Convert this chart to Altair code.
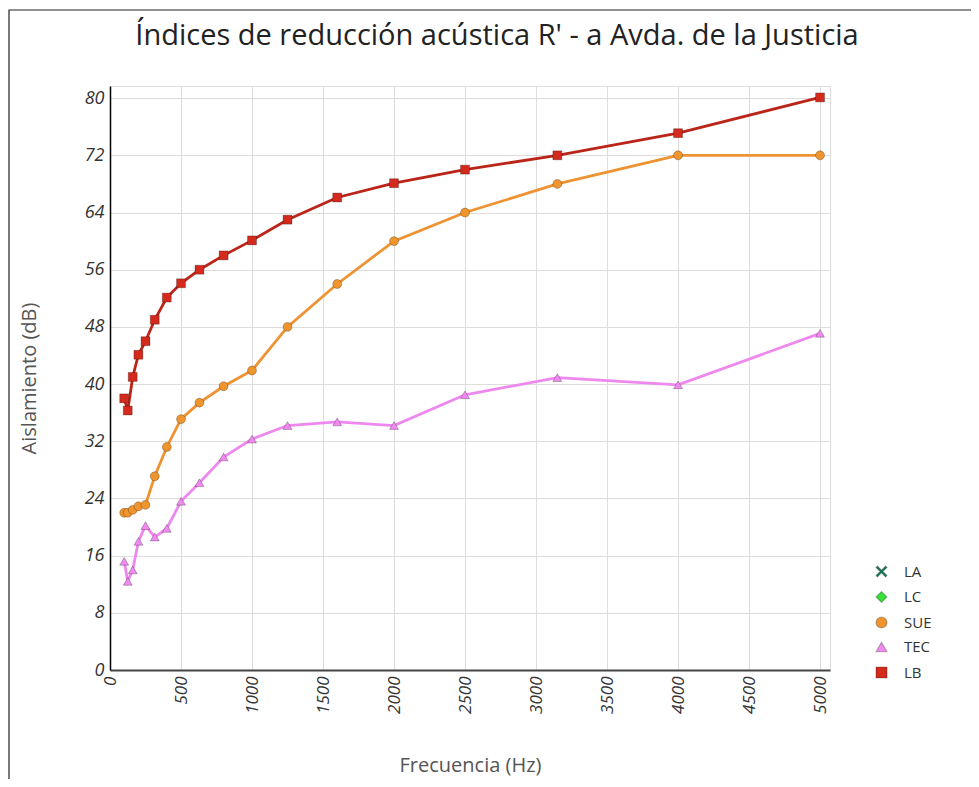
import altair as alt
import pandas as pd

freqs = [100, 125, 160, 200, 250, 315, 400, 500, 630, 800, 1000, 1250, 1600, 2000, 2500, 3150, 4000, 5000]
lb = [38.0, 36.3, 41.0, 44.1, 46.0, 49.0, 52.1, 54.1, 56.0, 58.0, 60.1, 63.0, 66.1, 68.1, 70.0, 72.0, 75.1, 80.1]
sue = [22.0, 22.0, 22.4, 22.9, 23.1, 27.1, 31.2, 35.1, 37.4, 39.7, 41.9, 48.0, 54.0, 60.0, 64.0, 68.0, 72.0, 72.0]
tec = [15.2, 12.4, 14.0, 18.0, 20.2, 18.6, 19.8, 23.6, 26.2, 29.8, 32.3, 34.2, 34.7, 34.2, 38.5, 40.9, 39.9, 47.1]

X_SHAPE = ("M-0.75,-1L0,-0.25L0.75,-1L1,-0.75L0.25,0L1,0.75L0.75,1L0,0.25"
           "L-0.75,1L-1,0.75L-0.25,0L-1,-0.75Z")

series_names = ["LA", "LC", "SUE", "TEC", "LB"]
series_colors = ["#17805a", "#39e039", "#f0952e", "#f08af0", "#d42a1e"]
series_shapes = [X_SHAPE, "diamond", "circle", "triangle-up", "square"]
drawn_series = ["SUE", "TEC", "LB"]
line_colors = ["#ee9232", "#ee88ee", "#bb2418"]

x_ticks = [0, 500, 1000, 1500, 2000, 2500, 3000, 3500, 4000, 4500, 5000]
y_ticks = [0, 8, 16, 24, 32, 40, 48, 56, 64, 72, 80]

rows = []
for name, vals in [("TEC", tec), ("SUE", sue), ("LB", lb)]:
    for f, v in zip(freqs, vals):
        rows.append({"serie": name, "linea": name, "freq": f, "val": v})
df = pd.DataFrame(rows)

FONT = "Open Sans"
W, H = 720, 584

x_enc = alt.X("freq:Q", scale=alt.Scale(domain=[0, 5070], nice=False, zero=True),
              axis=alt.Axis(values=x_ticks, format="d", title="Frecuencia (Hz)", labelAngle=270,
                            labelFontStyle="italic", labelFontSize=17, labelColor="#333",
                            labelFont=FONT, labelPadding=6, ticks=False,
                            titleFont=FONT, titleFontSize=20, titleFontWeight="normal",
                            titleColor="#555", titlePadding=42,
                            domainColor="#444", domainWidth=2,
                            gridColor="#dddddd", labelFlush=False))
y_enc = alt.Y("val:Q", scale=alt.Scale(domain=[0, 81.7], nice=False),
              axis=alt.Axis(values=y_ticks, title="Aislamiento (dB)",
                            labelFontStyle="italic", labelFontSize=18, labelColor="#333",
                            labelFont=FONT, labelPadding=6, ticks=False,
                            titleFont=FONT, titleFontSize=20, titleFontWeight="normal",
                            titleColor="#555", titlePadding=45,
                            domainColor="#000", domainWidth=1.5,
                            gridColor="#dddddd", labelFlush=False))

lines = alt.Chart(df).mark_line(strokeWidth=2.8).encode(
    x=x_enc, y=y_enc,
    stroke=alt.Stroke("linea:N", scale=alt.Scale(domain=drawn_series, range=line_colors), legend=None),
    detail="linea:N",
)

points = alt.Chart(df).mark_point(filled=True, size=80, strokeWidth=1, opacity=1,
                                  stroke="#00000040").encode(
    x="freq:Q", y="val:Q",
    color=alt.Color("serie:N", scale=alt.Scale(domain=series_names, range=series_colors),
                    legend=alt.Legend(title=None, orient="none", legendX=764, legendY=478,
                                      labelFont=FONT, labelFontSize=15, labelColor="#333",
                                      symbolSize=120, symbolStrokeWidth=1.2,
                                      symbolStrokeColor="#00000040",
                                      labelOffset=15, rowPadding=8.5, padding=0)),
    shape=alt.Shape("serie:N", scale=alt.Scale(domain=series_names, range=series_shapes)),
)

frame_df = pd.DataFrame({"k": [0]})
frame = alt.Chart(frame_df).mark_rect(fill=None, stroke="#222", strokeWidth=1.2).encode(
    x=alt.value(-101), x2=alt.value(W + 200),
    y=alt.value(-76), y2=alt.value(H + 200),
)

chart = alt.layer(frame, lines, points).properties(
    width=W, height=H,
    title=alt.Title("Índices de reducción acústica R' - a Avda. de la Justicia",
                    font=FONT, fontSize=29, fontWeight="normal", color="#222",
                    anchor="middle", offset=0, dy=42, dx=27),
    padding={"left": 102, "top": 78, "right": 141, "bottom": 109},
    autosize=alt.AutoSizeParams(type="none"),
).configure_view(stroke=None).configure(background="white")

chart.save("out.html", embed_options={"renderer": "svg", "actions": False})
